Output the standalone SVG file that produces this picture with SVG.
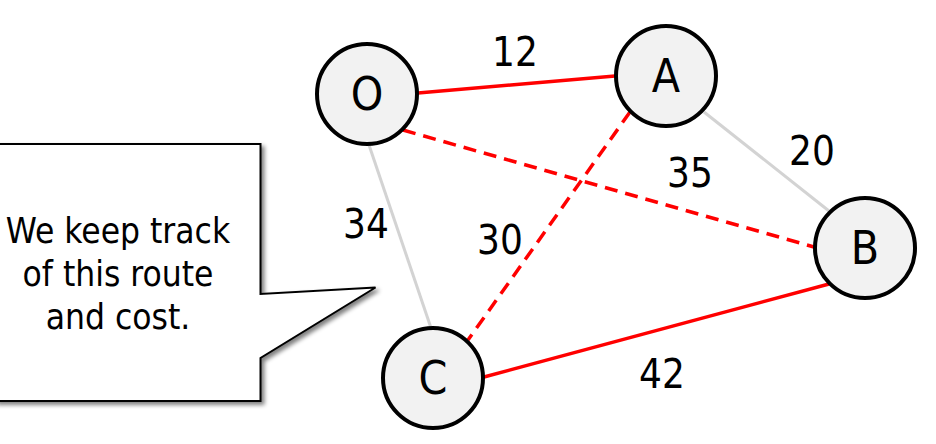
<svg xmlns="http://www.w3.org/2000/svg" width="936" height="444" viewBox="0 0 936 444">
<defs>
<filter id="sh" x="-10%" y="-10%" width="130%" height="130%">
<feGaussianBlur in="SourceAlpha" stdDeviation="2"/>
<feOffset dx="3" dy="3" result="b"/>
<feComponentTransfer><feFuncA type="linear" slope="0.5"/></feComponentTransfer>
<feMerge><feMergeNode/><feMergeNode in="SourceGraphic"/></feMerge>
</filter>
</defs>
<style>
.node{fill:#f2f2f2;stroke:#000;stroke-width:4}
.nl{font-family:"DejaVu Sans Condensed","DejaVu Sans",sans-serif;font-size:46px;text-anchor:middle;fill:#000}
.el{font-family:"DejaVu Sans Condensed","DejaVu Sans",sans-serif;font-size:40px;text-anchor:middle;fill:#000}
.ct{font-family:"DejaVu Sans Condensed","DejaVu Sans",sans-serif;font-size:35px;text-anchor:middle;fill:#000}
.red{stroke:#ff0000;stroke-width:3.5;fill:none}
.dash{stroke-dasharray:13 8}
.gray{stroke:#d3d3d3;stroke-width:3;fill:none}
</style>
<g id="callout">
<path d="M-5,144 H260.5 V294 L375.5,287.5 L260.5,358 V401 H-5 Z" fill="#fff" stroke="#000" stroke-width="2" filter="url(#sh)"/>
<text class="ct" x="118" y="243">We keep track</text>
<text class="ct" x="118" y="286">of this route</text>
<text class="ct" x="118" y="329">and cost.</text>
</g>
<g id="connectors">
<line class="gray" x1="369" y1="145" x2="431" y2="328"/>
<line class="gray" x1="704" y1="112" x2="829" y2="211"/>
<line class="red" x1="418" y1="93" x2="615" y2="76"/>
<line class="red dash" x1="403" y1="130" x2="814" y2="247"/>
<line class="red dash" x1="630" y1="112" x2="468" y2="340"/>
<line class="red" x1="484" y1="377" x2="829" y2="284"/>
<text class="el" x="515" y="66">12</text>
<text class="el" x="690" y="187">35</text>
<text class="el" x="812" y="165">20</text>
<text class="el" x="366" y="238">34</text>
<text class="el" x="500" y="254">30</text>
<text class="el" x="662" y="388">42</text>
</g>
<g id="node-O"><circle class="node" cx="367" cy="94" r="50"/><text class="nl" x="367" y="110">O</text></g>
<g id="node-A"><circle class="node" cx="666" cy="76" r="50"/><text class="nl" x="666" y="92">A</text></g>
<g id="node-B"><circle class="node" cx="865" cy="248" r="50"/><text class="nl" x="865" y="264">B</text></g>
<g id="node-C"><circle class="node" cx="433" cy="378" r="50"/><text class="nl" x="433" y="394">C</text></g>
</svg>
